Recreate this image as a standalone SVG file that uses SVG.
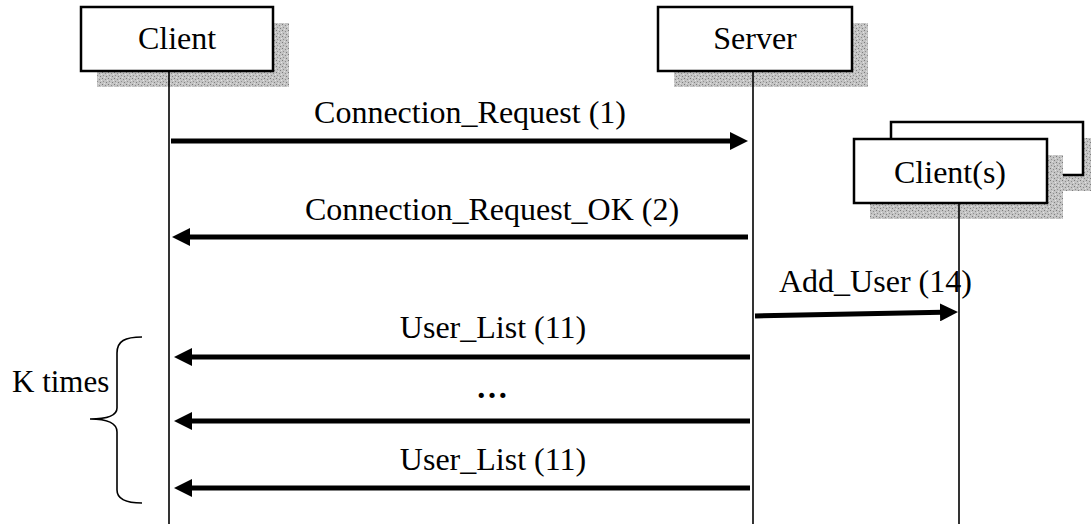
<svg xmlns="http://www.w3.org/2000/svg" width="1091" height="531" viewBox="0 0 1091 531">
<defs>
<pattern id="stip" width="6" height="6" patternUnits="userSpaceOnUse">
<rect width="6" height="6" fill="#c4c4c4"/>
<rect x="0" y="0" width="1" height="1" fill="#7a7a7a"/>
<rect x="3" y="1" width="1" height="1" fill="#8c8c8c"/>
<rect x="1" y="3" width="1" height="1" fill="#909090"/>
<rect x="4" y="4" width="1" height="1" fill="#7e7e7e"/>
<rect x="2" y="5" width="1" height="1" fill="#e0e0e0"/>
<rect x="5" y="2" width="1" height="1" fill="#e4e4e4"/>
</pattern>
<marker id="ah" markerUnits="userSpaceOnUse" viewBox="0 0 18 18" markerWidth="18" markerHeight="18" refX="2" refY="9" orient="auto">
<path d="M0,0 L18,9 L0,18 z" fill="#000"/>
</marker>
</defs>
<style>
.shadow{fill:url(#stip);}
.box{fill:#fff;stroke:#000;stroke-width:2.5;}
.life{stroke:#000;stroke-width:1.6;fill:none;}
.msg{stroke:#000;stroke-width:5;fill:none;marker-end:url(#ah);}
.t{font-family:"Liberation Serif","Times New Roman",serif;font-size:32px;fill:#000;}
.m{text-anchor:middle;}
</style>
<rect width="1091" height="531" fill="#fff"/>
<g id="node-client">
<rect class="shadow" x="97" y="23" width="192" height="64"/>
<rect class="box" x="81" y="7" width="192" height="64"/>
<text class="t m" x="177" y="49">Client</text>
</g>
<g id="node-server">
<rect class="shadow" x="674" y="23" width="194" height="64"/>
<rect class="box" x="658" y="7" width="194" height="64"/>
<text class="t m" x="755" y="49">Server</text>
</g>
<g id="node-clients">
<rect class="shadow" x="907" y="138" width="192" height="53"/>
<rect class="box" x="891" y="122" width="192" height="53"/>
<rect class="shadow" x="870" y="155" width="193" height="64"/>
<rect class="box" x="854" y="139" width="193" height="64"/>
<text class="t m" x="950" y="183">Client(s)</text>
</g>
<g id="lifelines">
<line class="life" x1="169" y1="71" x2="169" y2="524"/>
<line class="life" x1="753" y1="71" x2="753" y2="524"/>
<line class="life" x1="959" y1="203" x2="959" y2="524"/>
</g>
<g id="connectors">
<line class="msg" x1="171" y1="141" x2="732" y2="141"/>
<line class="msg" x1="748" y1="237" x2="188" y2="237"/>
<line class="msg" x1="755" y1="316" x2="942" y2="312.3"/>
<line class="msg" x1="750" y1="357" x2="190" y2="357"/>
<line class="msg" x1="750" y1="421" x2="190" y2="421"/>
<line class="msg" x1="750" y1="488" x2="190" y2="488"/>
</g>
<g id="labels">
<text class="t m" x="470" y="123">Connection_Request (1)</text>
<text class="t m" x="492" y="220">Connection_Request_OK (2)</text>
<text class="t" x="779" y="292">Add_User (14)</text>
<text class="t m" x="493" y="338">User_List (11)</text>
<text class="t m" x="492" y="398" font-weight="bold">…</text>
<text class="t m" x="493" y="470">User_List (11)</text>
</g>
<g id="bracket">
<text class="t" x="12" y="392" style="font-size:31px">K times</text>
<path d="M142,337 C125,337 117,341 117,353 L117,408 C117,415 108,419 90,419 C108,419 117,423 117,432 L117,490 C117,499 125,503 142,503" fill="none" stroke="#000" stroke-width="1.6"/>
</g>
</svg>
